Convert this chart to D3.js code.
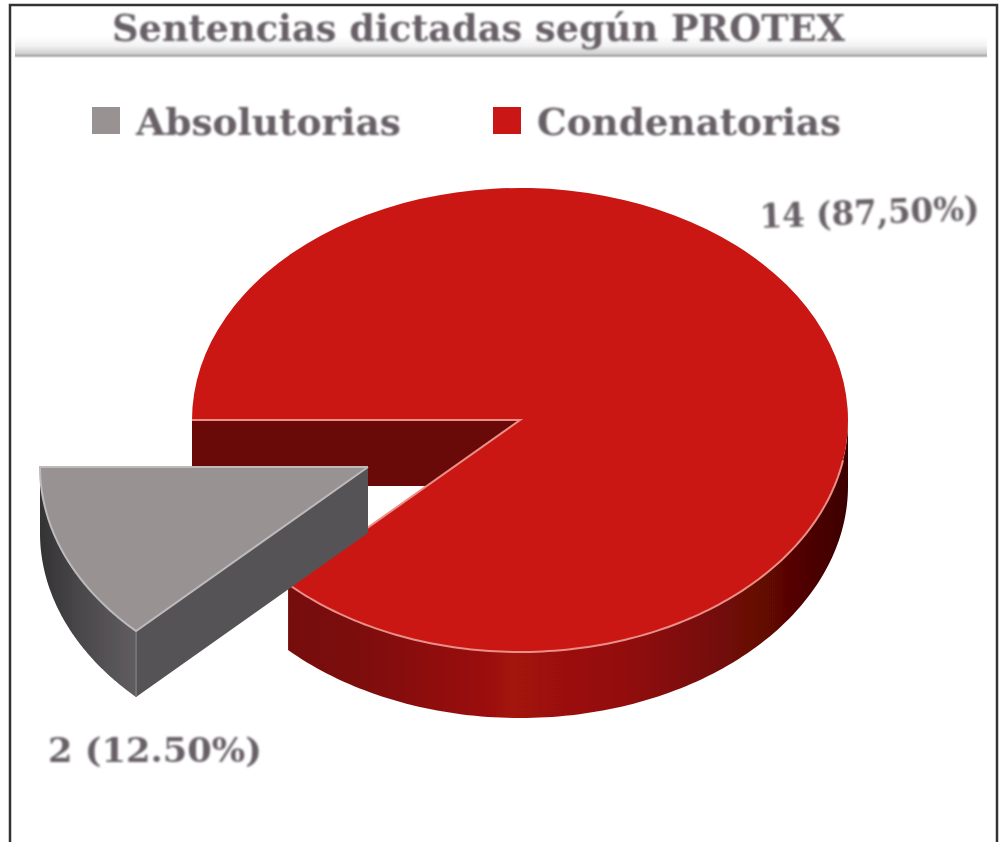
<!DOCTYPE html>
<html>
<head>
<meta charset="utf-8">
<script src="https://cdn.jsdelivr.net/npm/d3@7"></script>
<style>
html,body{margin:0;padding:0;background:#fff;overflow:hidden}
svg{display:block}
text{font-family:"DejaVu Serif",serif;font-weight:bold;fill:#676166}
</style>
</head>
<body>
<svg id="c" width="1002" height="842"></svg>
<script>
const titleText = "Sentencias dictadas según PROTEX";
const categories = ["Absolutorias", "Condenatorias"];
const seriesValues = [2, 14];
const dataLabels = ["2 (12.50%)", "14 (87,50%)"];
const topColors = ["#989293", "#cb1713"];
const rimColors = ["#bdbabc", "#e98f88"];

const W = 1002, H = 842;
const svg = d3.select("#c");
const defs = svg.append("defs");
const rad = d => d * Math.PI / 180;

// soft blur, matching the scanned look
const blur = defs.append("filter").attr("id", "soft")
  .attr("x", "-5%").attr("y", "-20%").attr("width", "110%").attr("height", "140%");
blur.append("feGaussianBlur").attr("stdDeviation", 0.8);
const edge = defs.append("filter").attr("id", "edge")
  .attr("x", "-5%").attr("y", "-5%").attr("width", "110%").attr("height", "110%");
edge.append("feGaussianBlur").attr("stdDeviation", 0.6);

function hGradient(id, x1, x2, stops) {
  const g = defs.append("linearGradient").attr("id", id)
    .attr("gradientUnits", "userSpaceOnUse")
    .attr("x1", x1).attr("x2", x2).attr("y1", 0).attr("y2", 0);
  stops.forEach(([o, c]) => g.append("stop").attr("offset", o).attr("stop-color", c));
}
hGradient("redSide", 288, 848, [[0, "#760a07"], [0.12, "#7c0b08"], [0.4, "#a2120e"], [0.6, "#93100c"], [0.82, "#6a0806"], [1, "#3c0302"]]);
hGradient("greyCurve", 40, 136, [[0, "#343335"], [0.45, "#4b494b"], [1, "#605d60"]]);

const vg = defs.append("linearGradient").attr("id", "rule").attr("x1", 0).attr("x2", 0).attr("y1", 0).attr("y2", 1);
[[0, "#ffffff"], [0.45, "#f2f2f2"], [0.78, "#d2d2d2"], [0.9, "#a9a9a9"], [1, "#ffffff"]]
  .forEach(([o, c]) => vg.append("stop").attr("offset", o).attr("stop-color", c));

// frame (open at the bottom, cropped)
svg.append("path").attr("d", d3.line()([[10, H], [10, 5], [997, 5], [997, H]]))
  .attr("fill", "none").attr("stroke", "#333").attr("stroke-width", 2.5);

// title and rule
svg.append("rect").attr("x", 15).attr("y", 36).attr("width", 972).attr("height", 22).attr("fill", "url(#rule)");
svg.append("text").attr("x", 112).attr("y", 41).attr("font-size", 37)
  .attr("textLength", 733).attr("lengthAdjust", "spacingAndGlyphs")
  .attr("filter", "url(#soft)").text(titleText);

// legend
const legendX = d3.scaleOrdinal().domain(categories).range([92, 493]);
const legendW = d3.scaleOrdinal().domain(categories).range([265, 304]);
const legend = svg.append("g").selectAll("g").data(categories).join("g")
  .attr("transform", d => `translate(${legendX(d)},0)`);
legend.append("rect").attr("x", 0).attr("y", 107).attr("width", 28).attr("height", 27)
  .attr("fill", (d, i) => topColors[i]).attr("filter", "url(#edge)");
legend.append("text").attr("x", 44).attr("y", 135).attr("font-size", 37)
  .attr("textLength", d => legendW(d)).attr("lengthAdjust", "spacingAndGlyphs")
  .attr("filter", "url(#soft)").text(d => d);

// pie geometry
const cx = 520, cy = 420, rx = 328, ry = 232, depth = 66;
const explode = [-152, 47];
const pie = d3.pie().sort(null).startAngle(rad(225)).endAngle(rad(225 + 360));
const slices = pie(seriesValues);
const radius = d3.scaleLinear().domain([0, 1]).range([0, rx]);
const arcGen = d3.arc().innerRadius(0).outerRadius(radius(1));
const yScale = ry / rx;

const pt = (a, ox = 0, oy = 0) => [cx + ox + rx * Math.sin(a), cy + oy - ry * Math.cos(a)];
const arcPts = (a0, a1, ox = 0, oy = 0) => d3.range(0, 121).map(i => pt(a0 + (a1 - a0) * i / 120, ox, oy));
const line = d3.line();
const band = (a0, a1, ox = 0, oy = 0) =>
  line([...arcPts(a0, a1, ox, oy), ...arcPts(a1, a0, ox, oy + depth)]) + "Z";

const grey = slices[0], red = slices[1];
const chart = svg.append("g");

// red slice: inner wall visible along the gap, then outer wall
const redApex = [cx, cy];
const redWest = pt(red.startAngle);
chart.append("path")
  .attr("d", line([redWest, redApex, [cx, cy + depth], [redWest[0], redWest[1] + depth]]) + "Z")
  .attr("fill", "#6a0a08");
chart.append("path")
  .attr("d", band(rad(90 + 360), red.endAngle))
  .attr("fill", "url(#redSide)").attr("filter", "url(#edge)");

const topFace = (s, ox, oy) => chart.append("path")
  .attr("d", arcGen(s))
  .attr("transform", `translate(${cx + ox},${cy + oy}) scale(1,${yScale})`);

topFace(red, 0, 0).attr("fill", topColors[1]);
// red rims
const redRim = [redWest, redApex, ...arcPts(red.endAngle, rad(100 + 360))];
chart.append("path").attr("d", line(redRim)).attr("fill", "none")
  .attr("stroke", rimColors[1]).attr("stroke-width", 2).attr("filter", "url(#edge)");

// grey exploded slice
const [ex, ey] = explode;
const gApex = [cx + ex, cy + ey];
const gTip = pt(grey.startAngle, ex, ey);
chart.append("path")
  .attr("d", line([gApex, gTip, [gTip[0], gTip[1] + depth], [gApex[0], gApex[1] + depth]]) + "Z")
  .attr("fill", "#555254").attr("filter", "url(#edge)");
chart.append("path").attr("d", band(grey.startAngle, grey.endAngle, ex, ey))
  .attr("fill", "url(#greyCurve)").attr("filter", "url(#edge)");
chart.append("path").attr("d", line([gTip, [gTip[0], gTip[1] + depth]]))
  .attr("stroke", "#7d7a7c").attr("stroke-width", 1.5);
topFace(grey, ex, ey).attr("fill", topColors[0]);
chart.append("path")
  .attr("d", line([gApex, gTip, ...arcPts(grey.startAngle, grey.endAngle, ex, ey), gApex]))
  .attr("fill", "none").attr("stroke", rimColors[0]).attr("stroke-width", 2).attr("filter", "url(#edge)");

// data labels
const labelPos = [[48, 762, 214, 0], [760, 228, 220, -2]];
svg.append("g").selectAll("text").data(dataLabels).join("text")
  .attr("x", (d, i) => labelPos[i][0]).attr("y", (d, i) => labelPos[i][1])
  .attr("transform", (d, i) => `rotate(${labelPos[i][3]},${labelPos[i][0]},${labelPos[i][1]})`)
  .attr("font-size", 33)
  .attr("textLength", (d, i) => labelPos[i][2]).attr("lengthAdjust", "spacingAndGlyphs")
  .attr("filter", "url(#soft)").text(d => d);
</script>
</body>
</html>
